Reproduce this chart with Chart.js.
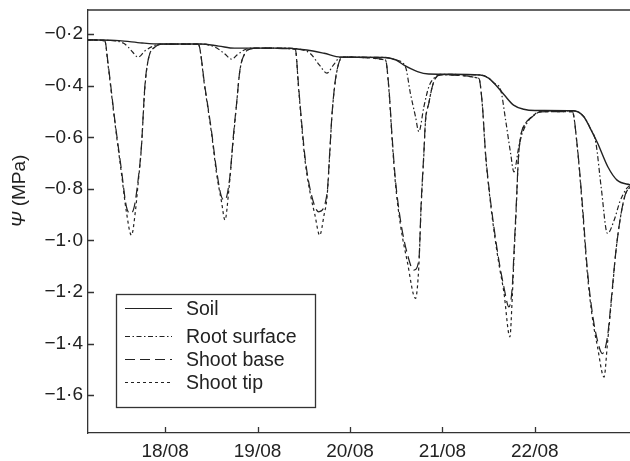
<!DOCTYPE html>
<html lang="en">
<head>
<meta charset="UTF-8">
<title>Water potential</title>
<script src="https://cdn.jsdelivr.net/npm/chart.js"></script>
<style>
  html, body { margin: 0; padding: 0; background: #fff; }
</style>
</head>
<body>
<canvas id="psiChart" width="630" height="461"></canvas>
<script>
// time in days (day of August), water potential in MPa
const soilDay = [17.165, 17.5, 17.75, 17.95, 18.38, 18.58, 18.75, 19.3, 19.45, 19.6, 19.72, 19.9, 20.37, 20.5, 20.58, 20.73, 20.85, 21.41, 21.5, 21.56, 21.67, 21.77, 21.88, 22.0, 22.42, 22.53, 22.6, 22.68, 22.79, 22.89, 23.04];
const soilPsi = [-0.222, -0.225, -0.234, -0.238, -0.238, -0.246, -0.254, -0.254, -0.258, -0.265, -0.274, -0.289, -0.29, -0.30, -0.319, -0.345, -0.354, -0.358, -0.37, -0.39, -0.436, -0.475, -0.491, -0.496, -0.497, -0.52, -0.565, -0.623, -0.714, -0.766, -0.785];

const rootDay = [17.165, 17.4, 17.55, 17.6, 17.65, 17.707, 17.78, 17.86, 17.95, 18.38, 18.54, 18.64, 18.72, 18.78, 18.86, 18.95, 19.3, 19.45, 19.57, 19.67, 19.75, 19.82, 19.9, 20.37, 20.5, 20.6, 20.654, 20.709, 20.745, 20.8, 20.853, 20.91, 20.98, 21.41, 21.5, 21.56, 21.63, 21.684, 21.738, 21.774, 21.827, 21.865, 21.936, 22.03, 22.1, 22.42, 22.53, 22.6, 22.66, 22.72, 22.786, 22.86, 22.92, 22.99, 23.04];
const rootPsi = [-0.222, -0.224, -0.235, -0.25, -0.27, -0.289, -0.265, -0.248, -0.238, -0.238, -0.25, -0.275, -0.297, -0.28, -0.26, -0.254, -0.254, -0.258, -0.275, -0.32, -0.351, -0.32, -0.289, -0.29, -0.30, -0.326, -0.43, -0.52, -0.578, -0.481, -0.404, -0.37, -0.356, -0.358, -0.37, -0.39, -0.416, -0.533, -0.662, -0.734, -0.636, -0.584, -0.533, -0.505, -0.497, -0.497, -0.52, -0.565, -0.62, -0.80, -0.973, -0.92, -0.85, -0.80, -0.785];

const baseDay = [17.165, 17.347, 17.382, 17.455, 17.527, 17.581, 17.628, 17.665, 17.707, 17.743, 17.78, 17.816, 17.888, 17.99, 18.358, 18.43, 18.50, 18.556, 18.61, 18.647, 18.70, 18.737, 18.773, 18.809, 18.863, 18.918, 19.0, 19.408, 19.444, 19.481, 19.517, 19.571, 19.661, 19.752, 19.78, 19.806, 19.842, 19.878, 19.914, 20.384, 20.42, 20.456, 20.492, 20.546, 20.619, 20.69, 20.745, 20.77, 20.799, 20.817, 20.853, 20.89, 20.925, 20.98, 21.394, 21.431, 21.467, 21.503, 21.557, 21.611, 21.665, 21.72, 21.756, 21.774, 21.80, 21.821, 21.846, 21.90, 21.973, 22.045, 22.406, 22.46, 22.514, 22.569, 22.623, 22.677, 22.731, 22.786, 22.82, 22.857, 22.875, 22.911, 22.947, 22.983, 23.04];
const basePsi = [-0.222, -0.226, -0.313, -0.533, -0.727, -0.87, -0.895, -0.87, -0.766, -0.636, -0.403, -0.30, -0.25, -0.238, -0.238, -0.404, -0.572, -0.727, -0.831, -0.843, -0.753, -0.598, -0.468, -0.339, -0.274, -0.258, -0.254, -0.258, -0.404, -0.559, -0.688, -0.805, -0.889, -0.817, -0.662, -0.507, -0.377, -0.313, -0.289, -0.30, -0.404, -0.598, -0.766, -0.921, -1.05, -1.115, -1.077, -0.856, -0.662, -0.533, -0.468, -0.404, -0.371, -0.358, -0.371, -0.468, -0.662, -0.792, -0.947, -1.077, -1.18, -1.258, -1.18, -1.05, -0.856, -0.688, -0.598, -0.546, -0.52, -0.501, -0.50, -0.636, -0.856, -1.115, -1.283, -1.387, -1.439, -1.374, -1.258, -1.115, -1.05, -0.947, -0.87, -0.818, -0.79];

const tipDay = [17.165, 17.347, 17.382, 17.455, 17.527, 17.581, 17.635, 17.68, 17.707, 17.743, 17.78, 17.816, 17.888, 17.99, 18.358, 18.43, 18.50, 18.556, 18.61, 18.647, 18.69, 18.737, 18.773, 18.809, 18.863, 18.918, 19.0, 19.408, 19.444, 19.481, 19.517, 19.571, 19.62, 19.672, 19.72, 19.752, 19.78, 19.806, 19.842, 19.878, 19.914, 20.384, 20.42, 20.456, 20.492, 20.546, 20.619, 20.709, 20.745, 20.77, 20.799, 20.817, 20.853, 20.89, 20.925, 20.98, 21.394, 21.431, 21.467, 21.503, 21.557, 21.611, 21.665, 21.73, 21.756, 21.774, 21.80, 21.821, 21.846, 21.90, 21.973, 22.045, 22.406, 22.46, 22.514, 22.569, 22.623, 22.677, 22.749, 22.786, 22.82, 22.857, 22.875, 22.911, 22.947, 22.983, 23.04];
const tipPsi = [-0.222, -0.226, -0.32, -0.54, -0.74, -0.89, -0.98, -0.88, -0.78, -0.64, -0.41, -0.30, -0.25, -0.238, -0.238, -0.41, -0.58, -0.74, -0.85, -0.921, -0.80, -0.61, -0.47, -0.34, -0.274, -0.258, -0.254, -0.258, -0.41, -0.57, -0.70, -0.82, -0.90, -0.98, -0.90, -0.83, -0.67, -0.51, -0.38, -0.313, -0.289, -0.30, -0.41, -0.61, -0.78, -0.94, -1.08, -1.225, -1.10, -0.87, -0.67, -0.54, -0.468, -0.404, -0.371, -0.358, -0.371, -0.47, -0.67, -0.80, -0.96, -1.09, -1.20, -1.374, -1.22, -1.07, -0.87, -0.69, -0.60, -0.546, -0.52, -0.501, -0.50, -0.64, -0.87, -1.13, -1.30, -1.41, -1.53, -1.40, -1.27, -1.12, -1.05, -0.947, -0.87, -0.818, -0.79];

const dayTicks = [18, 19, 20, 21, 22];
const dayLabels = ["18/08", "19/08", "20/08", "21/08", "22/08"];
const psiTicks = [-0.2, -0.4, -0.6, -0.8, -1.0, -1.2, -1.4, -1.6];
const seriesNames = ["Soil", "Root surface", "Shoot base", "Shoot tip"];

const INK = "#222";
const FONT = "'Liberation Sans', Arial, sans-serif";
const dashes = [[], [5, 2.5, 1.5, 2.5], [10, 5], [3, 3]];

function toPoints(xs, ys) {
    return xs.map((x, i) => ({ x: x, y: ys[i] }));
}

const series = [
    toPoints(soilDay, soilPsi),
    toPoints(rootDay, rootPsi),
    toPoints(baseDay, basePsi),
    toPoints(tipDay, tipPsi)
];

// psi tick format: -0.2 -> "−0·2"
function psiLabel(v) {
    return "\u2212" + Math.abs(v).toFixed(1).replace(".", "\u00b7");
}

// inward tick marks, top frame line, axis title and boxed legend
const decorations = {
    id: "decorations",
    afterDraw(chart) {
        const ctx = chart.ctx;
        const area = chart.chartArea;
        const xs = chart.scales.x;
        const ys = chart.scales.y;
        ctx.save();
        ctx.strokeStyle = "#333";
        ctx.lineWidth = 1.3;
        ctx.setLineDash([]);
        ctx.beginPath();
        ctx.moveTo(area.left, area.top);
        ctx.lineTo(area.right, area.top);
        dayTicks.forEach(d => {
            const px = Math.round(xs.getPixelForValue(d)) + 0.5;
            ctx.moveTo(px, area.bottom);
            ctx.lineTo(px, area.bottom - 6);
        });
        psiTicks.forEach(v => {
            const py = Math.round(ys.getPixelForValue(v)) + 0.5;
            ctx.moveTo(area.left, py);
            ctx.lineTo(area.left + 6, py);
        });
        ctx.stroke();

        // y axis title
        ctx.fillStyle = INK;
        ctx.translate(20, 191);
        ctx.rotate(-Math.PI / 2);
        ctx.textBaseline = "middle";
        ctx.font = "italic 19px " + FONT;
        const w1 = ctx.measureText("\u03a8").width;
        ctx.font = "19px " + FONT;
        const w2 = ctx.measureText(" (MPa)").width;
        const start = -(w1 + w2) / 2;
        ctx.font = "italic 19px " + FONT;
        ctx.textAlign = "left";
        ctx.fillText("\u03a8", start, 0);
        ctx.font = "19px " + FONT;
        ctx.fillText(" (MPa)", start + w1, 0);
        ctx.restore();

        // legend box
        ctx.save();
        ctx.fillStyle = "#fff";
        ctx.fillRect(116.5, 294.5, 199, 113);
        ctx.strokeStyle = "#333";
        ctx.lineWidth = 1.3;
        ctx.strokeRect(116.5, 294.5, 199, 113);
        const rows = [310, 338, 361, 384];
        ctx.font = "19.5px " + FONT;
        ctx.textBaseline = "middle";
        ctx.textAlign = "left";
        seriesNames.forEach((name, i) => {
            ctx.strokeStyle = INK;
            ctx.lineWidth = 1.2;
            ctx.setLineDash(dashes[i]);
            ctx.beginPath();
            ctx.moveTo(125, rows[i] - 1.5);
            ctx.lineTo(172, rows[i] - 1.5);
            ctx.stroke();
            ctx.fillStyle = INK;
            ctx.fillText(name, 186, rows[i]);
        });
        ctx.restore();
    }
};

new Chart(document.getElementById("psiChart"), {
    type: "line",
    data: {
        datasets: series.map((pts, i) => ({
            label: seriesNames[i],
            data: pts,
            borderColor: INK,
            borderWidth: i === 0 ? 1.4 : 1.2,
            borderDash: dashes[i],
            pointRadius: 0,
            fill: false,
            cubicInterpolationMode: "monotone"
        }))
    },
    options: {
        responsive: false,
        animation: false,
        layout: { padding: { top: 10, right: 0, left: 0, bottom: 0 } },
        plugins: {
            legend: { display: false },
            tooltip: { enabled: false }
        },
        scales: {
            x: {
                type: "linear",
                min: 17.165,
                max: 23.03,
                afterBuildTicks: scale => { scale.ticks = dayTicks.map(v => ({ value: v })); },
                afterFit: scale => { scale.height = 28; scale.paddingLeft = 0; scale.paddingRight = 0; },
                grid: { display: false, drawTicks: false },
                border: { display: true, color: "#333", width: 1.3 },
                ticks: {
                    padding: 7,
                    maxRotation: 0,
                    color: INK,
                    font: { family: FONT, size: 19 },
                    callback: v => dayLabels[dayTicks.indexOf(v)]
                }
            },
            y: {
                type: "linear",
                min: -1.747,
                max: -0.106,
                afterBuildTicks: scale => { scale.ticks = psiTicks.map(v => ({ value: v })); },
                afterFit: scale => { scale.width = 88; scale.paddingTop = 0; scale.paddingBottom = 0; },
                grid: { display: false, drawTicks: false },
                border: { display: true, color: "#333", width: 1.3 },
                ticks: {
                    padding: 5,
                    color: INK,
                    font: { family: FONT, size: 19 },
                    callback: v => psiLabel(v)
                }
            }
        }
    },
    plugins: [decorations]
});
</script>
</body>
</html>
